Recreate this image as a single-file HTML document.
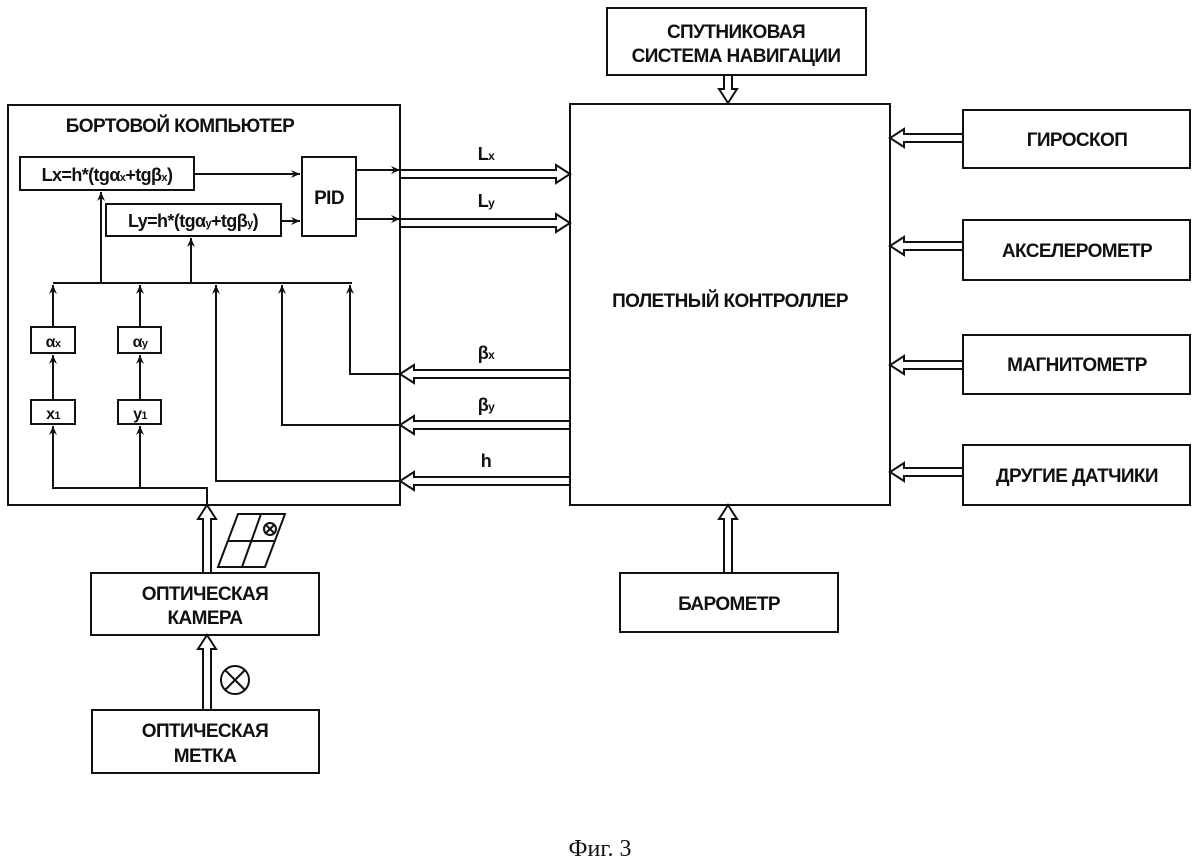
<!DOCTYPE html>
<html><head><meta charset="utf-8"><style>
body{margin:0;background:#fff}
svg{display:block}
text{font-family:"Liberation Sans",sans-serif;font-weight:bold;fill:#111}
</style></head><body>
<svg width="1200" height="868" viewBox="0 0 1200 868" xmlns="http://www.w3.org/2000/svg">
<defs>
<marker id="a" markerWidth="10" markerHeight="10" refX="9" refY="4" orient="auto" markerUnits="userSpaceOnUse">
<path d="M0,0 L9,4 L0,8 L3,4 z" fill="#111"/></marker>
</defs>
<g fill="none" stroke="#111" stroke-width="2">
<rect x="8" y="105" width="392" height="400"/>
<rect x="570" y="104" width="320" height="401"/>
<rect x="607" y="8" width="259" height="67"/>
<rect x="963" y="110" width="227" height="58"/>
<rect x="963" y="220" width="227" height="60"/>
<rect x="963" y="335" width="227" height="59"/>
<rect x="963" y="445" width="227" height="60"/>
<rect x="620" y="573" width="218" height="59"/>
<rect x="91" y="573" width="228" height="62"/>
<rect x="92" y="710" width="227" height="63"/>
<rect x="20" y="157" width="174" height="33"/>
<rect x="106" y="204" width="175" height="32"/>
<rect x="302" y="157" width="54" height="79"/>
<rect x="31" y="327" width="44" height="26"/>
<rect x="118" y="327" width="43" height="26"/>
<rect x="31" y="400" width="44" height="24"/>
<rect x="118" y="400" width="43" height="24"/>
<line x1="53" y1="283" x2="352" y2="283"/>
<line x1="194" y1="174" x2="300" y2="174" marker-end="url(#a)"/>
<line x1="281" y1="221" x2="300" y2="221" marker-end="url(#a)"/>
<line x1="356" y1="170" x2="400" y2="170" marker-end="url(#a)"/>
<line x1="356" y1="219" x2="400" y2="219" marker-end="url(#a)"/>
<line x1="101" y1="283" x2="101" y2="192" marker-end="url(#a)"/>
<line x1="191" y1="283" x2="191" y2="238" marker-end="url(#a)"/>
<line x1="53" y1="327" x2="53" y2="285" marker-end="url(#a)"/>
<line x1="140" y1="327" x2="140" y2="285" marker-end="url(#a)"/>
<line x1="53" y1="400" x2="53" y2="355" marker-end="url(#a)"/>
<line x1="140" y1="400" x2="140" y2="355" marker-end="url(#a)"/>
<polyline points="207,505 207,488 53,488 53,426" marker-end="url(#a)"/>
<line x1="140" y1="488" x2="140" y2="426" marker-end="url(#a)"/>
<polyline points="400,374 350,374 350,285" marker-end="url(#a)"/>
<polyline points="400,425 282,425 282,285" marker-end="url(#a)"/>
<polyline points="400,481 216,481 216,285" marker-end="url(#a)"/>
<path d="M400,170 L556,170 L556,165 L570,174 L556,183 L556,178 L400,178"/>
<path d="M400,219 L556,219 L556,214 L570,223 L556,232 L556,227 L400,227"/>
<path d="M570,370 L414,370 L414,365 L400,374 L414,383 L414,378 L570,378"/>
<path d="M570,421 L414,421 L414,416 L400,425 L414,434 L414,429 L570,429"/>
<path d="M570,477 L414,477 L414,472 L400,481 L414,490 L414,485 L570,485"/>
<path d="M963,134 L904,134 L904,129 L890,138 L904,147 L904,142 L963,142"/>
<path d="M963,242 L904,242 L904,237 L890,246 L904,255 L904,250 L963,250"/>
<path d="M963,361 L904,361 L904,356 L890,365 L904,374 L904,369 L963,369"/>
<path d="M963,468 L904,468 L904,463 L890,472 L904,481 L904,476 L963,476"/>
<path d="M724,75 L724,89 L719,89 L728,103 L737,89 L732,89 L732,75"/>
<path d="M724,573 L724,519 L719,519 L728,505 L737,519 L732,519 L732,573"/>
<path d="M203,573 L203,519 L198,519 L207,505 L216,519 L211,519 L211,573"/>
<path d="M203,710 L203,649 L198,649 L207,635 L216,649 L211,649 L211,710"/>
<polygon points="238,514 285,514 265,567 218,567"/>
<line x1="228" y1="541" x2="275" y2="541"/>
<line x1="261" y1="514" x2="242" y2="567"/>
<circle cx="270" cy="529" r="6"/>
<line x1="266" y1="525" x2="274" y2="533"/><line x1="274" y1="525" x2="266" y2="533"/>
<circle cx="235" cy="680" r="14"/>
<line x1="225" y1="670" x2="245" y2="690"/><line x1="245" y1="670" x2="225" y2="690"/>
</g>
<g font-size="19" text-anchor="middle" letter-spacing="-0.6">
<text x="180" y="132">БОРТОВОЙ КОМПЬЮТЕР</text>
<text x="736" y="38">СПУТНИКОВАЯ</text>
<text x="736" y="62">СИСТЕМА НАВИГАЦИИ</text>
<text x="730" y="307">ПОЛЕТНЫЙ КОНТРОЛЛЕР</text>
<text x="1077" y="146">ГИРОСКОП</text>
<text x="1077" y="257">АКСЕЛЕРОМЕТР</text>
<text x="1077" y="371">МАГНИТОМЕТР</text>
<text x="1077" y="482">ДРУГИЕ ДАТЧИКИ</text>
<text x="729" y="610">БАРОМЕТР</text>
<text x="205" y="600">ОПТИЧЕСКАЯ</text>
<text x="205" y="624">КАМЕРА</text>
<text x="205" y="737">ОПТИЧЕСКАЯ</text>
<text x="205" y="762">МЕТКА</text>
<text x="329" y="204" font-size="19">PID</text>
<text x="107" y="181" font-size="18">Lx=h*(tgα<tspan font-size="11">x</tspan>+tgβ<tspan font-size="11">x</tspan>)</text>
<text x="193" y="227" font-size="18">Ly=h*(tgα<tspan font-size="11">y</tspan>+tgβ<tspan font-size="11">y</tspan>)</text>
<text x="53" y="347" font-size="16">α<tspan font-size="11">x</tspan></text>
<text x="140" y="347" font-size="16">α<tspan font-size="11">y</tspan></text>
<text x="53" y="419" font-size="16">x<tspan font-size="11">1</tspan></text>
<text x="140" y="419" font-size="16">y<tspan font-size="11">1</tspan></text>
<text x="486" y="160" font-size="18">L<tspan font-size="12">x</tspan></text>
<text x="486" y="207" font-size="18">L<tspan font-size="12">y</tspan></text>
<text x="486" y="359" font-size="18">β<tspan font-size="12">x</tspan></text>
<text x="486" y="411" font-size="18">β<tspan font-size="12">y</tspan></text>
<text x="486" y="467" font-size="18">h</text>
</g>
<text x="600" y="856" font-size="24" text-anchor="middle" style="font-family:'Liberation Serif',serif;font-weight:normal">Фиг. 3</text>
</svg>
</body></html>
